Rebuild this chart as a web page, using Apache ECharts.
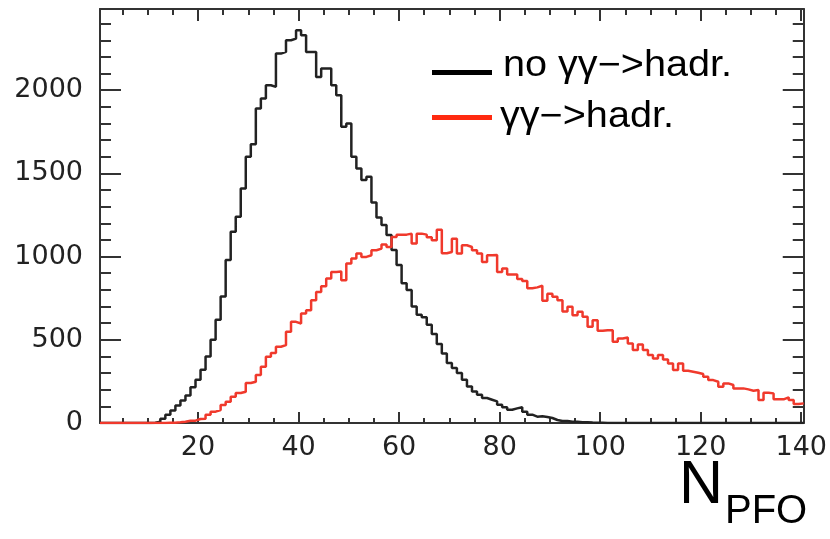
<!DOCTYPE html>
<html><head><meta charset="utf-8">
<script src="https://cdn.jsdelivr.net/npm/echarts@6/dist/echarts.min.js"></script>
<style>html,body{margin:0;padding:0;background:#fff}#c{width:830px;height:539px}</style>
</head><body><div id="c"></div>
<script>
// N_PFO histograms, one bin per integer value, first bin = 1
const firstBin = 1;
const noGG = [
  0,0,0,0,0,0,0,0,0,0,
  2,8,25,50,75,105,135,165,215,260,
  320,400,500,620,760,980,1150,1240,1410,1600,
  1675,1890,1950,2030,2020,2220,2230,2300,2310,2360,
  2330,2230,2230,2080,2130,2130,2030,1970,1780,1800,
  1600,1530,1460,1480,1325,1235,1190,1130,1040,950,
  840,800,700,650,635,590,535,475,418,360,
  330,300,260,220,190,170,150,140,130,110,
  95,80,88,95,68,50,38,40,36,30,
  18,12,12,8,8,5,5,3,2,1,
  0,0,0,0,0,0,0,0,0,0,
  0,0,0,0,0,0,0,0,0,0,
  0,0,0,0,0,0,0,0,0,0,
  0,0,0,0,0,0,0,0,0,0
];
const withGG = [
  0,0,0,0,0,0,0,0,0,0,
  0,0,0,1,2,4,8,14,14,24,
  26,50,68,78,108,128,158,180,188,240,
  248,288,338,398,420,458,468,548,608,598,
  658,678,738,788,822,868,908,910,858,958,
  988,1018,998,1008,1038,1048,1073,1058,1118,1132,
  1132,1138,1078,1138,1132,1116,1098,1162,1020,1028,
  1108,1018,1068,1058,1038,1018,968,1008,1010,908,
  928,892,892,866,853,810,815,825,735,776,
  758,738,670,698,648,668,638,578,618,554,
  558,558,488,508,514,478,438,472,438,408,
  388,408,382,358,318,358,314,308,302,294,
  278,258,248,218,238,228,208,208,202,194,
  198,138,182,178,142,142,154,138,114,118
];
const seriesNames = ['no \u03b3\u03b3\u2212>hadr.', '\u03b3\u03b3\u2212>hadr.'];
const xMajorTicks = [20,40,60,80,100,120,140];
const xMinorTicks = [5,10,15,20,25,30,35,40,45,50,55,60,65,70,75,80,85,90,95,100,105,110,115,120,125,130,135,140];
const yMajorTicks = [0,500,1000,1500,2000];
const yMinorTicks = [100,200,300,400,500,600,700,800,900,1000,1100,1200,1300,1400,1500,1600,1700,1800,1900,2000,2100,2200,2300,2400];
const xRange = [0.5, 140.5];
const yRange = [0, 2488];

function histData(vals) {
  const d = vals.map((v, i) => [firstBin + i - 0.5, v]);
  d.push([firstBin + vals.length - 0.5, vals[vals.length - 1]]);
  return d;
}

const axisCol = '#333';
const tickFont = 'DejaVu Sans';
const plain = v => String(v);
function xAx(pos, len, vals, lineShow, labels) {
  return {
    type: 'value', gridIndex: 0, position: pos, min: xRange[0], max: xRange[1],
    axisLine: { show: lineShow, onZero: false, lineStyle: { color: axisCol, width: 2 } },
    axisTick: { show: true, inside: true, length: len, customValues: vals, lineStyle: { color: axisCol, width: 2 } },
    axisLabel: labels ? { show: true, customValues: vals, formatter: plain, fontFamily: tickFont, fontSize: 27, color: '#222', margin: 11 } : { show: false },
    splitLine: { show: false }
  };
}
function yAx(pos, len, vals, lineShow, labels) {
  return {
    type: 'value', gridIndex: 0, position: pos, min: yRange[0], max: yRange[1],
    axisLine: { show: lineShow, onZero: false, lineStyle: { color: axisCol, width: 2 } },
    axisTick: { show: true, inside: true, length: len, customValues: vals, lineStyle: { color: axisCol, width: 2 } },
    axisLabel: labels ? { show: true, customValues: vals, formatter: plain, fontFamily: tickFont, fontSize: 27, color: '#222', margin: 17 } : { show: false },
    splitLine: { show: false }
  };
}

const chart = echarts.init(document.getElementById('c'), null, { renderer: 'canvas' });
chart.setOption({
  animation: false,
  backgroundColor: '#fff',
  grid: { left: 100, top: 9, width: 707, height: 414, containLabel: false },
  xAxis: [
    xAx('bottom', 5, xMinorTicks, true, false),
    xAx('bottom', 11, xMajorTicks, false, true),
    xAx('top', 6, xMinorTicks, true, false),
    xAx('top', 12, xMajorTicks, false, false)
  ],
  yAxis: [
    yAx('left', 11, yMinorTicks, true, false),
    yAx('left', 21, yMajorTicks, false, true),
    yAx('right', 11, yMinorTicks, true, false),
    yAx('right', 21, yMajorTicks, false, false)
  ],
  series: [
    { name: seriesNames[0], type: 'line', xAxisIndex: 0, yAxisIndex: 0, step: 'end', showSymbol: false, symbol: 'none',
      data: histData(noGG), lineStyle: { color: '#222', width: 2.5 }, z: 3 },
    { name: seriesNames[1], type: 'line', xAxisIndex: 0, yAxisIndex: 0, step: 'end', showSymbol: false, symbol: 'none',
      data: histData(withGG), lineStyle: { color: '#f0392c', width: 2.5 }, z: 4 }
  ],
  graphic: [
    { type: 'rect', shape: { x: 432, y: 70, width: 60, height: 5 }, style: { fill: '#000' }, z: 10 },
    { type: 'rect', shape: { x: 432, y: 115, width: 60, height: 5 }, style: { fill: '#ff2a10' }, z: 10 },
    { type: 'text', x: 503, y: 66, scaleX: 1.1, z: 10,
      style: { text: seriesNames[0], font: '36px "Liberation Sans", Arial, sans-serif', fill: '#000', verticalAlign: 'middle', align: 'left' } },
    { type: 'text', x: 500, y: 117, scaleX: 1.1, z: 10,
      style: { text: seriesNames[1], font: '36px "Liberation Sans", Arial, sans-serif', fill: '#000', verticalAlign: 'middle', align: 'left' } },
    { type: 'text', x: 679, y: 517, z: 10,
      style: { text: 'N', font: '61px "Liberation Sans", Arial, sans-serif', fill: '#000', verticalAlign: 'bottom', align: 'left' } },
    { type: 'text', x: 725, y: 532, z: 10,
      style: { text: 'PFO', font: '40px "Liberation Sans", Arial, sans-serif', fill: '#000', verticalAlign: 'bottom', align: 'left' } }
  ]
});
</script>
</body></html>
